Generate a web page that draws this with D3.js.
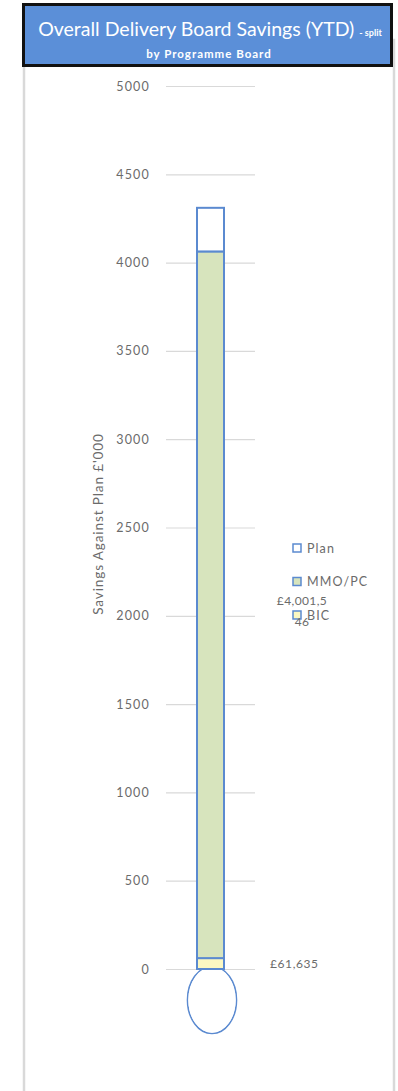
<!DOCTYPE html>
<html>
<head>
<meta charset="utf-8">
<script src="https://cdn.jsdelivr.net/npm/d3@7"></script>
<style>
  html, body { margin: 0; padding: 0; background: #fff; }
  svg { display: block; }
</style>
</head>
<body>
<svg id="chart" width="398" height="1091"></svg>
<script>
// Savings in £'000, stacked bottom to top: BIC, MMO/PC, Plan (remaining)
const categories = ["Savings"];
const seriesNames = ["BIC", "MMO/PC", "Plan"];
const bicValues = [61.635];
const mmoValues = [4001.546];
const planValues = [247];
const valueLabels = ["£61,635", "£4,001,546"];
const yTicks = [0, 500, 1000, 1500, 2000, 2500, 3000, 3500, 4000, 4500, 5000];
const legendOrder = ["Plan", "MMO/PC", "BIC"];

const fills = { "BIC": "#fbf8c2", "MMO/PC": "#d7e4bd", "Plan": "#ffffff" };
const stroke = "#5b8ad0";
const font = "Lato, 'Open Sans', sans-serif";
const textGrey = "#6b6b6b";

const svg = d3.select("#chart");
const W = 398, H = 1091;

// Outer chart frame (side borders)
svg.append("rect")
  .attr("x", 24).attr("y", 40).attr("width", 370).attr("height", H + 10)
  .attr("fill", "#fff").attr("stroke", "#d9d9d9").attr("stroke-width", 2.5);

// Title banner
svg.append("rect")
  .attr("x", 23.5).attr("y", 4.5).attr("width", 368).attr("height", 61)
  .attr("fill", "#5b8fd8").attr("stroke", "#111").attr("stroke-width", 3);

const title = svg.append("text")
  .attr("x", 210).attr("y", 36)
  .attr("text-anchor", "middle")
  .attr("fill", "#fff")
  .attr("font-family", font)
  .attr("font-size", 19.5);
title.append("tspan").text("Overall Delivery Board Savings (YTD) ");
title.append("tspan").attr("font-size", 9).attr("font-weight", "bold").text("- split");

svg.append("text")
  .attr("x", 209).attr("y", 58)
  .attr("text-anchor", "middle")
  .attr("fill", "#fff")
  .attr("font-family", font)
  .attr("font-weight", "bold")
  .attr("font-size", 11.5)
  .attr("letter-spacing", 1)
  .text("by Programme Board");

// Scales
const y = d3.scaleLinear().domain([0, 5000]).range([969, 86]);
const x = d3.scaleBand().domain(categories).range([166, 255]).paddingInner(0).paddingOuter(0.34);

// Gridlines and tick labels
const axis = d3.axisLeft(y).tickValues(yTicks).tickFormat(d3.format("d"))
  .tickSize(-(255 - 166)).tickPadding(16);
const gAxis = svg.append("g").attr("transform", "translate(166,0)").call(axis);
gAxis.select(".domain").remove();
gAxis.selectAll(".tick line").attr("stroke", "#d9d9d9").attr("stroke-width", 1.2);
gAxis.selectAll(".tick text")
  .attr("fill", textGrey)
  .attr("font-family", font)
  .attr("font-size", 12.5)
  .attr("letter-spacing", 1.2);

// Axis title
svg.append("text")
  .attr("transform", "translate(103,524) rotate(-90)")
  .attr("text-anchor", "middle")
  .attr("fill", textGrey)
  .attr("font-family", font)
  .attr("font-size", 13.5)
  .attr("letter-spacing", 0.9)
  .text("Savings Against Plan £'000");

// Stacked bar
const rows = categories.map((c, i) => ({
  cat: c, "BIC": bicValues[i], "MMO/PC": mmoValues[i], "Plan": planValues[i]
}));
const stacked = d3.stack().keys(seriesNames)(rows);

const bw = 27;
const bx = d => x(d.data.cat) + x.bandwidth() / 2 - bw / 2;

// Bulb at the base of the thermometer
const cx = x(categories[0]) + x.bandwidth() / 2 + 1.5;
svg.append("ellipse")
  .attr("cx", cx).attr("cy", y(0) + 31)
  .attr("rx", 24.5).attr("ry", 33.5)
  .attr("fill", "#fff").attr("stroke", stroke).attr("stroke-width", 1.6);

svg.append("g").selectAll("g")
  .data(stacked).join("g")
  .attr("fill", s => fills[s.key])
  .selectAll("rect")
  .data(s => s).join("rect")
  .attr("x", bx)
  .attr("width", bw)
  .attr("y", d => y(d[1]))
  .attr("height", d => y(d[0]) - y(d[1]))
  .attr("stroke", stroke)
  .attr("stroke-width", 2);

// Cover the bulb's top edge inside the tube
svg.append("defs").append("clipPath").attr("id", "bulbClip")
  .append("rect").attr("x", 0).attr("y", y(0) + 1).attr("width", W).attr("height", 100);
svg.append("ellipse")
  .attr("cx", cx).attr("cy", y(0) + 31)
  .attr("rx", 23.7).attr("ry", 32.7)
  .attr("fill", "#fff")
  .attr("clip-path", "url(#bulbClip)");

// Legend
const legend = svg.append("g");
legendOrder.forEach((name, i) => {
  const ly = 548 + i * 33.5;
  legend.append("rect")
    .attr("x", 293).attr("y", ly - 4).attr("width", 8).attr("height", 8)
    .attr("fill", fills[name]).attr("stroke", stroke).attr("stroke-width", 1.5);
  legend.append("text")
    .attr("x", 307).attr("y", ly + 4.5)
    .attr("fill", textGrey).attr("font-family", font).attr("font-size", 12.5)
    .attr("letter-spacing", 1.1)
    .text(name);
});

// Value labels
svg.append("text")
  .attr("x", 270).attr("y", y(bicValues[0] / 2) + 4)
  .attr("fill", textGrey).attr("font-family", font).attr("font-size", 12)
  .attr("letter-spacing", 0.6)
  .text(valueLabels[0]);

const midLbl = svg.append("text")
  .attr("fill", textGrey).attr("font-family", font).attr("font-size", 12)
  .attr("letter-spacing", 0.4)
  .attr("text-anchor", "middle");
midLbl.append("tspan").attr("x", 302).attr("y", 605).text(valueLabels[1].slice(0, 8));
midLbl.append("tspan").attr("x", 302).attr("y", 626).text(valueLabels[1].slice(8));
</script>
</body>
</html>
